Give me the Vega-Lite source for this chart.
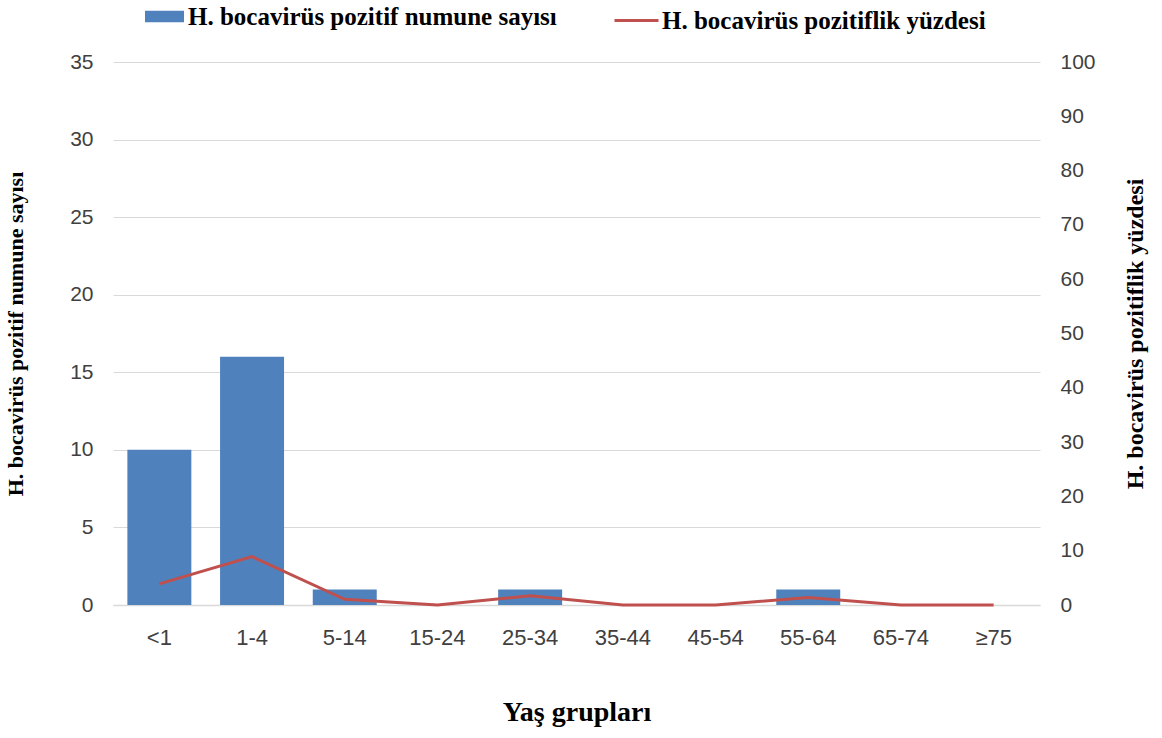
{
  "$schema": "https://vega.github.io/schema/vega-lite/v6.json",
  "width": 927,
  "height": 543,
  "autosize": {"type": "none"},
  "padding": {"left": 113, "top": 62, "right": 122, "bottom": 133},
  "background": "white",
  "config": {
    "view": {"stroke": null},
    "font": "Liberation Serif",
    "axis": {"labelFont": "Liberation Sans", "titleFont": "Liberation Serif", "labelColor": "#404040", "titleColor": "#000000"},
    "legend": {"labelFont": "Liberation Serif", "labelFontWeight": "bold", "labelFontSize": 25, "labelColor": "#000", "labelLimit": 0}
  },
  "data": {
    "values": [
      {"grup": "<1", "sayi": 10, "yuzde": 3.9},
      {"grup": "1-4", "sayi": 16, "yuzde": 8.9},
      {"grup": "5-14", "sayi": 1, "yuzde": 1.05},
      {"grup": "15-24", "sayi": 0, "yuzde": 0},
      {"grup": "25-34", "sayi": 1, "yuzde": 1.7},
      {"grup": "35-44", "sayi": 0, "yuzde": 0},
      {"grup": "45-54", "sayi": 0, "yuzde": 0},
      {"grup": "55-64", "sayi": 1, "yuzde": 1.4},
      {"grup": "65-74", "sayi": 0, "yuzde": 0},
      {"grup": "≥75", "sayi": 0, "yuzde": 0}
    ]
  },
  "encoding": {
    "x": {
      "field": "grup", "type": "nominal", "sort": null,
      "scale": {"paddingInner": 0.31, "paddingOuter": 0.155},
      "axis": {"title": "Yaş grupları", "titleFontSize": 28, "titleFontWeight": "bold", "titlePadding": 50,
               "labelAngle": 0, "labelFontSize": 22, "labelPadding": 22, "ticks": false, "labelLimit": 0,
               "domainColor": "#d9d9d9", "domainWidth": 1.5}
    }
  },
  "layer": [
    {
      "mark": {"type": "bar"},
      "encoding": {
        "y": {"field": "sayi", "type": "quantitative",
              "scale": {"domain": [0, 35]},
              "axis": {"title": "H. bocavirüs pozitif numune sayısı", "titleFontSize": 22, "titleFontWeight": "bold",
                       "titlePadding": 42, "values": [0, 5, 10, 15, 20, 25, 30, 35], "labelFontSize": 21,
                       "labelPadding": 20, "ticks": false, "domain": false, "grid": true, "gridColor": "#d9d9d9", "gridWidth": 1}},
        "color": {"datum": "H. bocavirüs pozitif numune sayısı", "type": "nominal",
                  "scale": {"range": ["#4f81bd"]},
                  "legend": {"title": null, "orient": "none", "legendX": 32, "legendY": -65,
                             "symbolType": "M-1,-0.3H1V0.3H-1Z", "symbolSize": 1521, "symbolStrokeWidth": 0, "labelOffset": 4}}
      }
    },
    {
      "mark": {"type": "line", "strokeWidth": 3},
      "encoding": {
        "y": {"field": "yuzde", "type": "quantitative",
              "scale": {"domain": [0, 100]},
              "axis": {"title": "H. bocavirüs pozitiflik yüzdesi", "orient": "right", "titleFontSize": 24, "titleFontWeight": "bold",
                       "titleAngle": 270, "titlePadding": 52, "values": [0,10,20,30,40,50,60,70,80,90,100],
                       "labelFontSize": 21, "labelPadding": 20, "ticks": false, "domain": false, "grid": false}},
        "stroke": {"datum": "H. bocavirüs pozitiflik yüzdesi", "type": "nominal",
                   "scale": {"range": ["#c0504d"]},
                   "legend": {"title": null, "orient": "none", "legendX": 500, "legendY": -65,
                              "symbolType": "stroke", "symbolSize": 1936, "symbolStrokeWidth": 3, "labelOffset": 2}}
      }
    }
  ],
  "resolve": {"scale": {"y": "independent", "color": "independent", "stroke": "independent"}}
}
